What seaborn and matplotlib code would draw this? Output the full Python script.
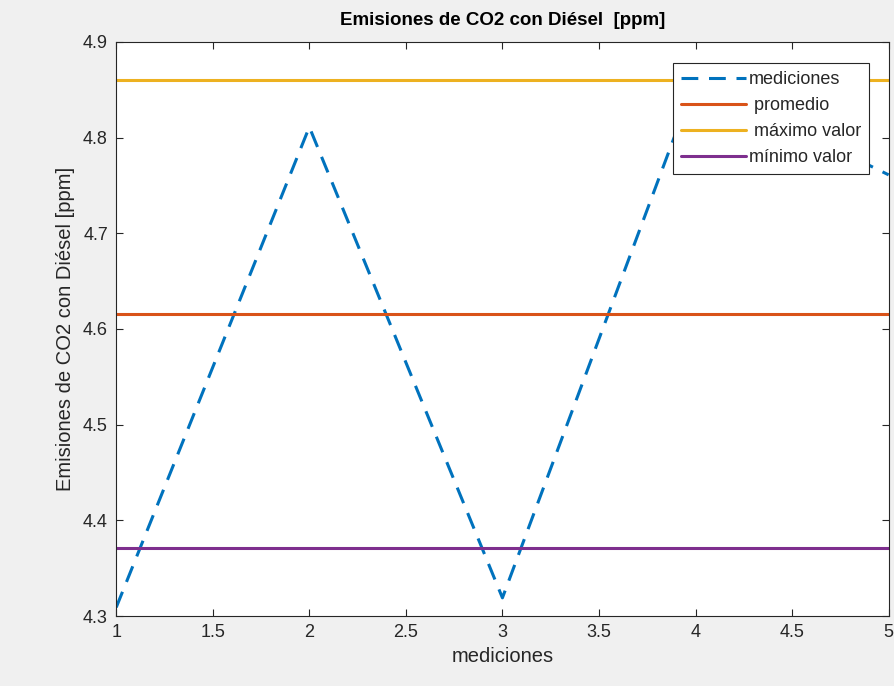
import matplotlib
matplotlib.use("Agg")
import matplotlib.pyplot as plt
import seaborn as sns
import pandas as pd

# Measurements of CO2 emissions with diesel
mediciones = [1, 2, 3, 4, 5]
emisiones = [4.309, 4.811, 4.319, 4.86, 4.761]
promedio = 4.616
maximo = 4.86
minimo = 4.371

x_ticks = [1, 1.5, 2, 2.5, 3, 3.5, 4, 4.5, 5]
y_ticks = [4.3, 4.4, 4.5, 4.6, 4.7, 4.8, 4.9]

sns.set_style("white")
plt.rcParams["font.family"] = ["Liberation Sans", "DejaVu Sans"]

df = pd.DataFrame({"mediciones": mediciones, "emisiones": emisiones})

fig = plt.figure(figsize=(8.94, 6.86), dpi=100, facecolor="#f0f0f0")
ax = fig.add_axes([0.130, 0.102, 0.864, 0.837])
ax.set_facecolor("white")

sns.lineplot(data=df, x="mediciones", y="emisiones", ax=ax, color="#0072BD",
             linewidth=2.2, dashes=False, label="mediciones")
ax.lines[-1].set_dashes([5.5, 3.5])
ax.axhline(promedio, color="#D95319", linewidth=2.2, label=" promedio")
ax.axhline(maximo, color="#EDB120", linewidth=2.2, label=" máximo valor")
ax.axhline(minimo, color="#7E2F8E", linewidth=2.2, label="mínimo valor")

ax.set_xlim(1, 5)
ax.set_ylim(4.3, 4.9)
ax.set_xticks(x_ticks)
ax.set_xticklabels([f"{t:g}" for t in x_ticks])
ax.set_yticks(y_ticks)
ax.set_yticklabels([f"{t:g}" for t in y_ticks])
ax.tick_params(direction="in", length=5, width=0.8, colors="#262626",
               labelsize=13, top=True, right=True, bottom=True, left=True,
               labelcolor="#262626", pad=6)
for s in ax.spines.values():
    s.set_color("#262626")
    s.set_linewidth(0.8)

ax.set_xlabel("mediciones", fontsize=14.5, color="#262626", labelpad=4)
ax.set_ylabel("Emisiones de CO2 con Diésel [ppm]", fontsize=14.5,
              color="#262626", labelpad=6)
ax.set_title("Emisiones de CO2 con Diésel  [ppm]", fontsize=13.5,
             fontweight="bold", color="black", pad=12)

leg = ax.legend(loc="upper right", bbox_to_anchor=(0.975, 0.963),
                fontsize=13, frameon=True, fancybox=False, framealpha=1,
                handlelength=3.6, handletextpad=0.15, borderpad=0.45,
                labelspacing=0.5, borderaxespad=0)
leg.get_frame().set_edgecolor("#262626")
leg.get_frame().set_linewidth(0.8)

fig.savefig("out.png", dpi=100, facecolor=fig.get_facecolor())
